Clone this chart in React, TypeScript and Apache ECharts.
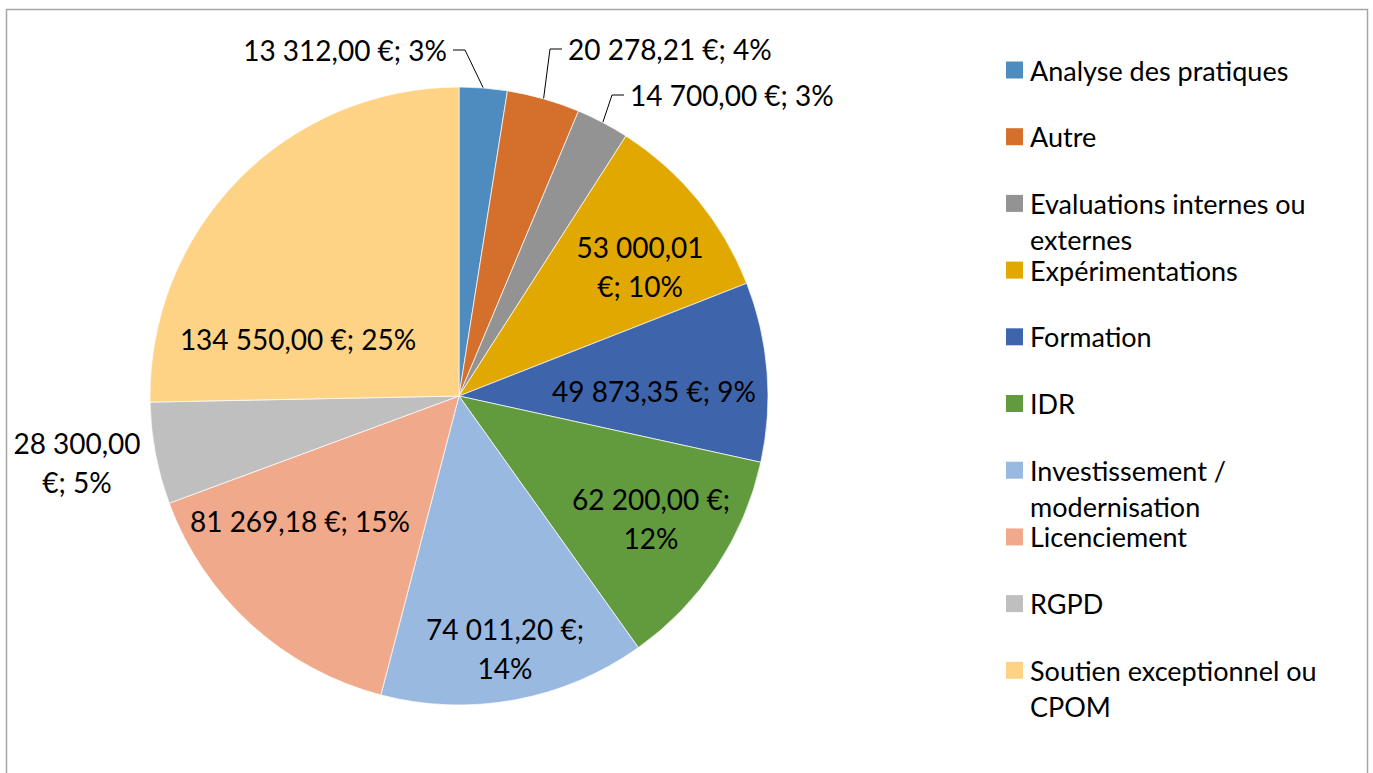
import React, { useEffect, useRef } from "react";
import * as echarts from "echarts";

// ---------- data ----------
const categories = [
  "Analyse des pratiques",
  "Autre",
  "Evaluations internes ou externes",
  "Expérimentations",
  "Formation",
  "IDR",
  "Investissement / modernisation",
  "Licenciement",
  "RGPD",
  "Soutien exceptionnel ou CPOM",
];
const amounts = [13312, 20278.21, 14700, 53000.01, 49873.35, 62200, 74011.2, 81269.18, 28300, 134550];
const legendLabels = [
  "Analyse des pratiques",
  "Autre",
  "Evaluations internes ou\nexternes",
  "Expérimentations",
  "Formation",
  "IDR",
  "Investissement /\nmodernisation",
  "Licenciement",
  "RGPD",
  "Soutien exceptionnel ou\nCPOM",
];

// ---------- styles / layout ----------
const colors = [
  "#4E8BBF", "#D4702B", "#939393", "#E0A800", "#3E65AC",
  "#629A3E", "#99B9E0", "#F0A98B", "#BFBFBF", "#FFD386",
];
const FONT = "Lato, 'Open Sans', sans-serif";
// where each data label wraps: before the € sign, before the percent, or not at all
const labelWrap = ["", "", "", "euro", "", "pct", "pct", "", "euro", ""];
const labelOutside = [true, true, true, false, false, false, false, false, true, false];
const labelLeader = [true, true, true, false, false, false, false, false, false, false];
// label anchor positions (px) and alignment
const labelPos: [number, number, string][] = [
  [453, 50, "right"],
  [562, 49, "left"],
  [624, 95, "left"],
  [640, 266, "center"],
  [654, 391, "center"],
  [651, 518, "center"],
  [505, 648, "center"],
  [300, 521, "center"],
  [77, 462, "center"],
  [298, 339, "center"],
];

const total = amounts.reduce((a, b) => a + b, 0);

function fmtEuro(v: number): string {
  const [int, dec] = v.toFixed(2).split(".");
  return int.replace(/\B(?=(\d{3})+(?!\d))/g, " ") + "," + dec;
}

function labelText(i: number): string {
  const v = fmtEuro(amounts[i]);
  const pct = Math.round((amounts[i] / total) * 100) + "%";
  if (labelWrap[i] === "euro") return `${v}\n€; ${pct}`;
  if (labelWrap[i] === "pct") return `${v} €;\n${pct}`;
  return `${v} €; ${pct}`;
}

export default function App() {
  const ref = useRef<HTMLDivElement>(null);
  useEffect(() => {
    if (!ref.current) return;
    const chart = echarts.init(ref.current, null, { renderer: "svg" });
    const data = categories.map((name, i) => ({
      name,
      value: amounts[i],
      itemStyle: { color: colors[i] },
      label: labelOutside[i]
        ? { position: "outside", padding: labelLeader[i] ? [0, 6, 18, 6] : 0 }
        : { position: "inside" },
      labelLine: { show: labelLeader[i] },
    }));
    const option: any = {
      animation: false,
      backgroundColor: "#ffffff",
      graphic: [
        {
          type: "rect",
          shape: { x: 6.5, y: 9.5, width: 1361, height: 800 },
          style: { fill: "none", stroke: "#a6a6a6", lineWidth: 1.5 },
          silent: true,
        },
      ],
      legend: categories.map((name, i) => {
        const twoLine = legendLabels[i].indexOf("\n") >= 0;
        return {
          data: [name],
          left: 1006,
          top: 70 + i * 66.7 - (twoLine ? 54 : 18),
          orient: "vertical",
          padding: 0,
          itemWidth: 17,
          itemHeight: 17,
          icon: "rect",
          itemStyle: { borderWidth: 0 },
          // a leading empty line keeps the icon level with the first text line
          formatter: (n: string) => {
            const t = legendLabels[categories.indexOf(n)];
            return t.indexOf("\n") >= 0 ? "\n" + t : t;
          },
          textStyle: {
            fontFamily: FONT,
            fontSize: 27,
            color: "#000",
            lineHeight: 36,
            padding: [0, 0, 0, 2],
          },
        };
      }),
      series: [
        {
          type: "pie",
          center: [459, 396],
          radius: 309,
          startAngle: 90,
          clockwise: true,
          avoidLabelOverlap: false,
          itemStyle: { borderColor: "#ffffff", borderWidth: 0.7 },
          label: {
            show: true,
            position: "inside",
            fontFamily: FONT,
            fontSize: 28,
            lineHeight: 39,
            color: "#000",
            formatter: (p: any) => labelText(p.dataIndex),
          },
          labelLine: {
            show: false,
            length: 10,
            length2: 12,
            lineStyle: { color: "#000", width: 1 },
          },
          labelLayout: (p: any) => {
            const pos = labelPos[p.dataIndex];
            return { x: pos[0], y: pos[1], align: pos[2], verticalAlign: "middle" };
          },
          data,
        },
      ],
    };
    chart.setOption(option);
    return () => chart.dispose();
  }, []);
  return (
    <div
      ref={ref}
      style={{ position: "fixed", left: 0, top: 0, width: 1373, height: 773, background: "#fff" }}
    />
  );
}
